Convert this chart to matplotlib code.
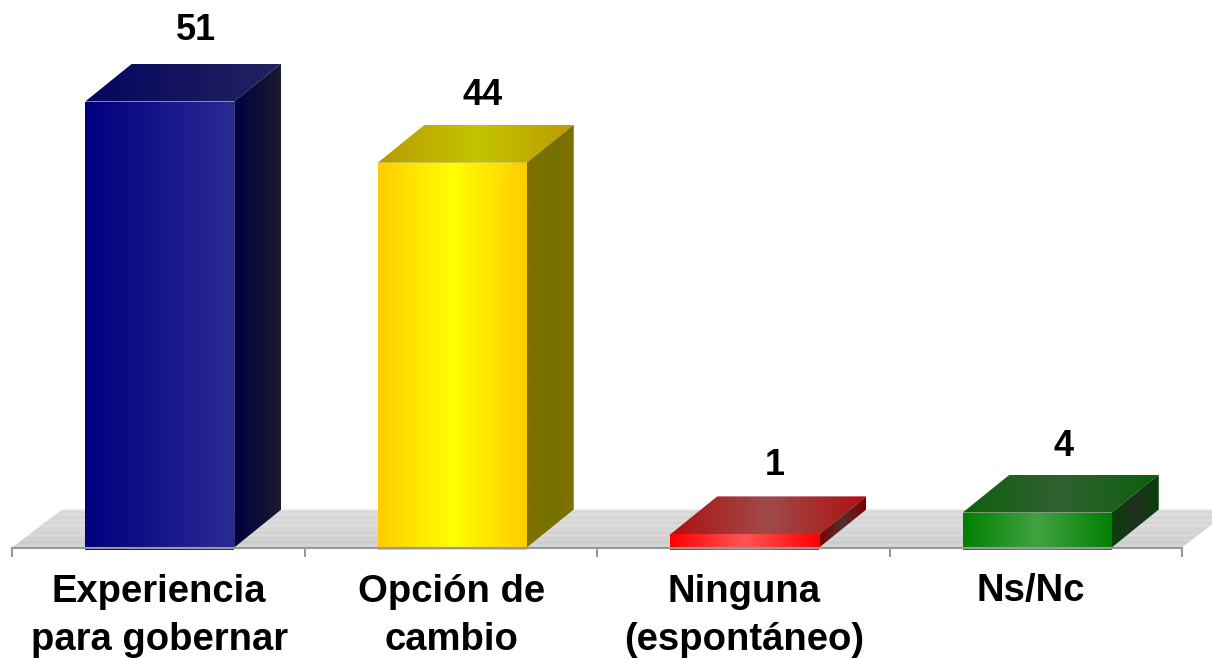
import matplotlib
matplotlib.use('Agg')
import matplotlib.pyplot as plt
import numpy as np
from matplotlib.colors import LinearSegmentedColormap
from matplotlib.patches import Polygon

categories = ['Experiencia\npara gobernar', 'Opción de\ncambio',
              'Ninguna\n(espontáneo)', 'Ns/Nc']
# height, the printed labels are rounded
bar_values = [51, 44, 1.5, 4]
value_labels = ['51', '44', '1', '4']

front_colors = [['#000080', '#2a2a95'],
                ['#ffcc00', '#ffff00', '#ffcc00'],
                ['#ff0000', '#ff5555', '#ff0000'],
                ['#008000', '#42a242', '#008000']]
top_colors = [['#05055f', '#23235f'],
              ['#b89c00', '#c4c400', '#bd9c00'],
              ['#b01010', '#9f4a4a', '#b01010'],
              ['#0f600f', '#316031', '#0a600a']]
side_colors = [['#000040', '#1a1a30'],
               ['#807000', '#757000', '#807000'],
               ['#7a0000', '#503030', '#800000'],
               ['#0a400a', '#203020', '#0a400a']]
floor_greys = [0.89, 0.86, 0.84, 0.86, 0.87, 0.85, 0.83, 0.85, 0.87, 0.85,
               0.83, 0.86, 0.87, 0.85, 0.83, 0.85, 0.84, 0.82, 0.84, 0.86,
               0.83, 0.81, 0.84, 0.82, 0.80, 0.81, 0.84, 0.82]

W, H = 1212, 659
BASE_Y = 547.5
PX_PER_UNIT = 8.745
PX_PER_CAT = 292.5
BAR_WIDTH = 149 / PX_PER_CAT
BAR_SHIFT = 1.5 / PX_PER_CAT
DEPTH_X = 47 / PX_PER_CAT
DEPTH_Y = 38 / PX_PER_UNIT
BELOW = 2.5 / PX_PER_UNIT
FLOOR_X = 50 / PX_PER_CAT

plt.rcParams['font.family'] = ['Liberation Sans', 'DejaVu Sans']

fig = plt.figure(figsize=(W / 100, H / 100), dpi=100)
ax = fig.add_axes([12 / W, (H - BASE_Y) / H, 1170 / W, BASE_Y / H])
ax.set_xlim(-0.5, 3.5)
ax.set_ylim(0, BASE_Y / PX_PER_UNIT)


def clip_to(im, pts):
    poly = Polygon(pts, closed=True, transform=ax.transData, fc='none', ec='none')
    ax.add_patch(poly)
    im.set_clip_path(poly)
    # the axes box must not cut the faces off below the axis line
    im.set_clip_box(fig.bbox)


def shade(pts, colors, extent):
    cmap = LinearSegmentedColormap.from_list('f', colors)
    grad = np.linspace(0, 1, 256).reshape(1, -1)
    im = ax.imshow(grad, cmap=cmap, extent=extent, aspect='auto',
                   origin='lower', zorder=3, interpolation='bilinear')
    clip_to(im, pts)


# floor, runs off the right side of the picture
floor_right = 3.5 + 30 / PX_PER_CAT
floor_pts = [(-0.5, 0), (-0.5 + FLOOR_X, DEPTH_Y), (floor_right + 0.1, DEPTH_Y),
             (floor_right, 23 / PX_PER_UNIT), (3.5, 0)]
im = ax.imshow(np.array(floor_greys).reshape(-1, 1), cmap='gray', vmin=0, vmax=1,
               extent=[-0.5, floor_right + 0.1, 0, DEPTH_Y], aspect='auto', zorder=1,
               interpolation='bilinear')
clip_to(im, floor_pts)

label_dx = [6, 0, 0, -4]
label_dy = [24, 20, 21, 19]
for i, val in enumerate(bar_values):
    x0 = i + BAR_SHIFT - BAR_WIDTH / 2
    x1 = i + BAR_SHIFT + BAR_WIDTH / 2
    shade([(x0, -BELOW), (x1, -BELOW), (x1, val), (x0, val)], front_colors[i],
          [x0, x1, -BELOW, val])
    shade([(x0, val), (x1, val), (x1 + DEPTH_X, val + DEPTH_Y), (x0 + DEPTH_X, val + DEPTH_Y)],
          top_colors[i], [x0, x1 + DEPTH_X, val, val + DEPTH_Y])
    shade([(x1, 0), (x1 + DEPTH_X, DEPTH_Y), (x1 + DEPTH_X, val + DEPTH_Y), (x1, val)],
          side_colors[i], [x1, x1 + DEPTH_X, 0, val + DEPTH_Y])
    ax.text(i + DEPTH_X * 0.68 + label_dx[i] / PX_PER_CAT,
            val + DEPTH_Y + label_dy[i] / PX_PER_UNIT, value_labels[i],
            ha='center', va='baseline', fontsize=26, fontweight='bold', color='black',
            clip_on=False)

ax.set_xlim(-0.5, 3.5)
ax.set_ylim(0, BASE_Y / PX_PER_UNIT)
ax.patch.set_visible(False)
for name in ['top', 'left', 'right']:
    ax.spines[name].set_visible(False)
ax.spines['bottom'].set_color('#999999')
ax.spines['bottom'].set_linewidth(1.5)
ax.spines['bottom'].set_zorder(5)
ax.set_yticks([])
ax.set_xticks(np.arange(-0.5, 4, 1))
ax.set_xticklabels([])
ax.tick_params(axis='x', length=6.5, width=1.5, color='#999999')

label_shift = [0.003, 0.003, 0.004, -0.016]
for i, lab in enumerate(categories):
    ax.text(i + label_shift[i], -26 / PX_PER_UNIT, lab, ha='center', va='top',
            fontsize=27.5, fontweight='bold', color='black', linespacing=1.45,
            clip_on=False)

fig.savefig('out.png', dpi=100)
